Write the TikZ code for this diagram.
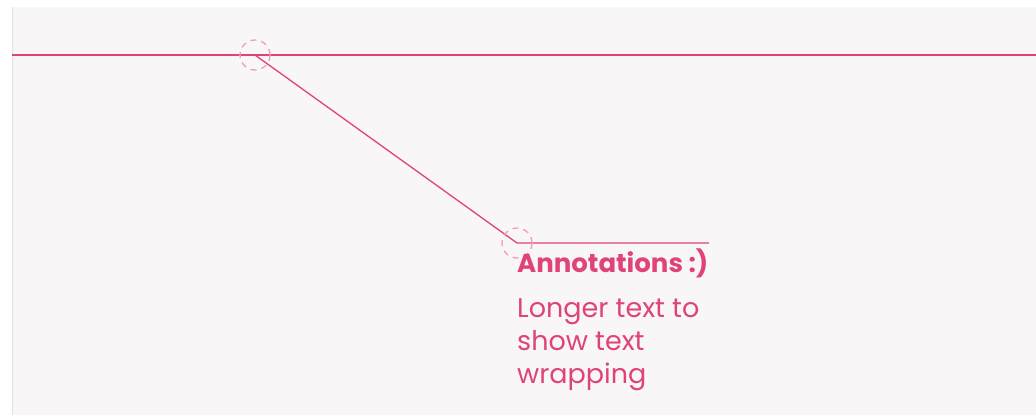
\documentclass[tikz,border=0pt]{standalone}
\usepackage{fontspec}
\setmainfont{Poppins}
\definecolor{annopink}{RGB}{224,66,122}
\definecolor{ringpink}{RGB}{238,160,186}
\definecolor{panelgray}{RGB}{248,246,247}
\definecolor{edgegray}{RGB}{226,224,225}
\tikzset{
	annoline/.style={draw=annopink, line width=1.3pt},
	ring/.style={draw=ringpink, dash pattern=on 6pt off 5pt, line width=1.3pt},
	annotext/.style={text=annopink, anchor=base west, inner sep=0pt, align=left}
}
\begin{document}
\begin{tikzpicture}[x=1pt, y=-1pt]
	\useasboundingbox (0, 0) rectangle (1036, 415);
	\fill[white](0, 0) rectangle (1036, 415);
	\fill[panelgray](12, 7) rectangle (1036, 415);
	\draw[edgegray, line width=1pt](12, 7) to (12, 415);

		% reference line
		\coordinate (left) at (12, 55);
		\coordinate (right) at (1036, 55);
		\coordinate (start) at (255, 55);
		\draw[annoline](left) to (right);

		% leader
		\coordinate (bend) at (517, 243);
		\coordinate (tail) at (709, 243);
		\draw[annoline](start) to (bend) to (tail);
		\draw[ring](start) circle (15);
		\draw[ring](bend) circle (15);

		% label (base = last line)
		\node[annotext, font=\fontsize{26}{30}\selectfont\bfseries] (title) at (517, 272){Annotations :)};
		\node[annotext, font=\fontsize{27}{33}\selectfont] (body) at (517, 383){Longer text to\\show text\\wrapping};
\end{tikzpicture}
\end{document}
